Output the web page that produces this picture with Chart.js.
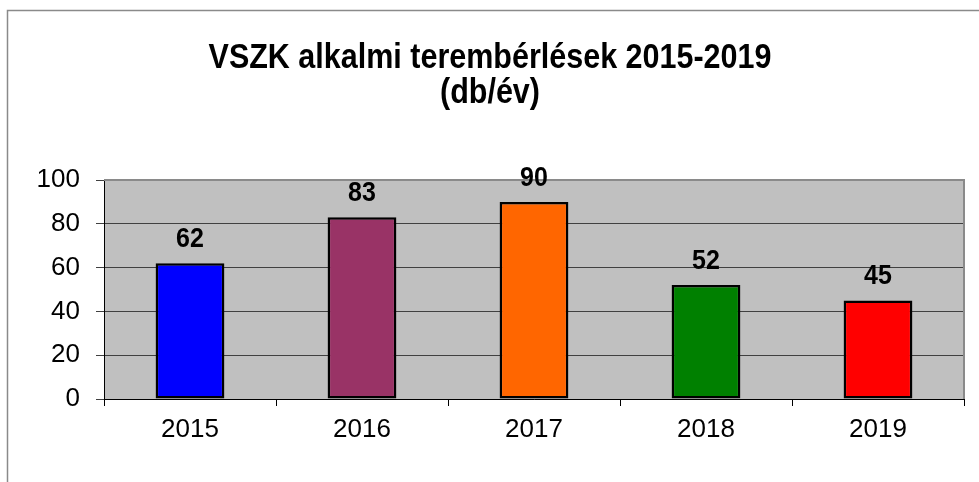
<!doctype html>
<html lang="hu">
<head>
<meta charset="utf-8" />
<title>VSZK alkalmi terembérlések</title>
<script src="https://cdn.jsdelivr.net/npm/chart.js"></script>
<style>
  html, body { margin: 0; padding: 0; background: #fff; }
  #wrap { width: 979px; height: 482px; position: relative; }
</style>
</head>
<body>
<div id="wrap"><canvas id="c" width="979" height="482"></canvas></div>
<script>
const years = ["2015", "2016", "2017", "2018", "2019"];
const rentals = [62, 83, 90, 52, 45];
const barColors = ["#0000FF", "#993366", "#FF6600", "#008000", "#FF0000"];
const titleLines = ["VSZK alkalmi terembérlések 2015-2019", "(db/év)"];
const FONT = "'Liberation Sans', Arial, sans-serif";

// text drawn slightly taller than wide, like the original export
function tallText(ctx, text, x, y, sy) {
  ctx.save();
  ctx.translate(x, y);
  ctx.scale(1, sy);
  ctx.fillText(text, 0, 0);
  ctx.restore();
}

// frame, gray plot background, title and value labels
const decor = {
  id: "decor",
  beforeDraw(chart) {
    const { ctx, chartArea: a } = chart;
    ctx.save();
    ctx.fillStyle = "#C0C0C0";
    ctx.fillRect(a.left, a.top, a.right - a.left, a.bottom - a.top);
    ctx.strokeStyle = "#8a8a8a";
    ctx.lineWidth = 1.5;
    ctx.strokeRect(7.5, 10.5, 1200, 800);
    ctx.fillStyle = "#000";
    ctx.textAlign = "center";
    ctx.textBaseline = "alphabetic";
    ctx.font = "bold 30.5px " + FONT;
    tallText(ctx, titleLines[0], 490, 68, 1.15);
    tallText(ctx, titleLines[1], 490, 103, 1.15);
    ctx.restore();
  },
  afterDatasetsDraw(chart) {
    const { ctx } = chart;
    const meta = chart.getDatasetMeta(0);
    ctx.save();
    ctx.strokeStyle = "#8a8a8a";
    ctx.lineWidth = 2;
    const a = chart.chartArea;
    ctx.beginPath();
    ctx.moveTo(a.left, a.top);
    ctx.lineTo(a.right, a.top);
    ctx.lineTo(a.right, a.bottom);
    ctx.stroke();
    ctx.fillStyle = "#000";
    ctx.textAlign = "center";
    ctx.textBaseline = "alphabetic";
    ctx.font = "bold 25px " + FONT;
    meta.data.forEach((bar, i) => {
      tallText(ctx, String(rentals[i]), bar.x, bar.y - 16, 1.12);
    });
    ctx.restore();
  }
};

new Chart(document.getElementById("c"), {
  type: "bar",
  data: {
    labels: years,
    datasets: [{
      data: rentals,
      backgroundColor: barColors,
      borderColor: "#000",
      borderWidth: 2.5,
      borderSkipped: false,
      barPercentage: 0.4,
      categoryPercentage: 1
    }]
  },
  options: {
    responsive: false,
    animation: false,
    devicePixelRatio: 1,
    layout: { padding: { top: 180, right: 15, left: 0, bottom: 0 } },
    plugins: { legend: { display: false }, tooltip: { enabled: false }, title: { display: false } },
    scales: {
      x: {
        afterFit(s) { s.height = 83; },
        grid: { drawOnChartArea: false, tickLength: 7, color: "#000", offset: true },
        border: { color: "#000", width: 1 },
        ticks: { color: "#000", font: { family: FONT, size: 26 }, padding: 8 }
      },
      y: {
        min: 0,
        max: 100,
        afterFit(s) { s.width = 104; },
        grid: { color: "#404040", tickLength: 8, lineWidth: 1 },
        border: { color: "#000", width: 1 },
        ticks: { stepSize: 20, color: "#000", font: { family: FONT, size: 26 }, padding: 16 }
      }
    }
  },
  plugins: [decor]
});
</script>
</body>
</html>
